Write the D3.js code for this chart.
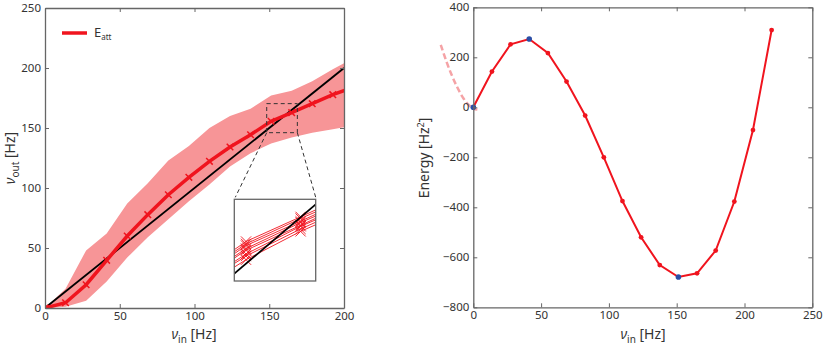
<!DOCTYPE html>
<html>
<head>
<meta charset="utf-8">
<script src="https://cdn.jsdelivr.net/npm/d3@7"></script>
<style>
  body { margin: 0; background: #fff; }
  text { font-family: "Noto Sans", sans-serif; fill: #333; }
  .axis path, .axis line { stroke: #666; }
  .axis text { font-size: 11.5px; fill: #333; }
</style>
</head>
<body>
<div id="container"></div>
<script>
// ---- data ----
// input rates (same for both panels)
let vin = [0, 13.75, 27.5, 41.25, 55, 68.75, 82.5, 96.25, 110, 123.75, 137.5, 151.25, 165, 178.75, 192.5, 206.25, 220];

// left panel: mean output rate and the shaded band
let voutMean = [0, 4.4, 19.4, 39.7, 60, 77.8, 94.4, 108.9, 122.2, 134.2, 144.4, 155.6, 162.8, 170.3, 177.8, 184, 189];
let bandUpper = [0, 16, 48, 62, 87, 104, 123, 135, 150, 160, 166, 177, 181, 189, 199, 208, 214];
let bandLower = [0, 1, 6, 22, 42, 59, 74, 89, 103, 118, 129, 137, 142, 146, 149, 152, 154];

// inset: single trials around the crossing
let trialX = [137.5, 151.25, 165, 178.75];
let trials = [
  [142.2, 152.4, 160.8, 167.9],
  [143.1, 153.5, 161.5, 168.8],
  [143.5, 154.1, 162.3, 169.2],
  [144.4, 155.2, 162.6, 170.1],
  [144.9, 155.7, 163.4, 170.4],
  [145.3, 156.6, 163.8, 171.3],
  [146.2, 157.1, 164.6, 171.7],
  [146.5, 157.8, 165.1, 172.6]
];
let zoomBox = { x: [148.3, 168.8], y: [146.1, 170.3] };

// right panel: energy
let energy = [0, 143, 252, 273, 217, 103, -33, -200, -375, -520, -631, -679, -664, -573, -377, -91, 309];
let minima = [0, 3, 11]; // indices drawn in blue
let parabolaX = [-24, -20, -16, -12, -8, -4, 0, 3];
let parabolaY = [250, 186, 130, 82, 42, 13, -5, -9];

let xTicksL = [0, 50, 100, 150, 200];
let yTicksL = [0, 50, 100, 150, 200, 250];
let xTicksR = [0, 50, 100, 150, 200, 250];
let yTicksR = [-800, -600, -400, -200, 0, 200, 400];

let red = "#f0141e";
let bandColor = "#f79597";
let blue = "#2b4ea6";

let w = 827;
let h = 350;
let viz = d3.select("#container")
  .append("svg")
    .attr("width", w)
    .attr("height", h)
;

// draws a matlab-like box with inward ticks on all 4 sides
function drawBox(g, xScale, yScale, xTicks, yTicks){
  let x0 = xScale.range()[0], x1 = xScale.range()[1];
  let y0 = yScale.range()[0], y1 = yScale.range()[1];
  g.append("g").attr("class", "axis")
    .attr("transform", "translate(0," + y0 + ")")
    .call(d3.axisBottom(xScale).tickValues(xTicks).tickSizeInner(-4).tickSizeOuter(0).tickPadding(4));
  g.append("g").attr("class", "axis")
    .attr("transform", "translate(0," + y1 + ")")
    .call(d3.axisTop(xScale).tickValues(xTicks).tickSizeInner(-4).tickSizeOuter(0).tickFormat(""));
  g.append("g").attr("class", "axis")
    .attr("transform", "translate(" + x0 + ",0)")
    .call(d3.axisLeft(yScale).tickValues(yTicks).tickSizeInner(-4).tickSizeOuter(0).tickPadding(4));
  g.append("g").attr("class", "axis")
    .attr("transform", "translate(" + x1 + ",0)")
    .call(d3.axisRight(yScale).tickValues(yTicks).tickSizeInner(-4).tickSizeOuter(0).tickFormat(""));
  g.selectAll(".axis .domain").attr("stroke", "#666").attr("stroke-width", 1.3);
}

// label with italic nu and subscript
function nuLabel(sel, sub){
  sel.append("tspan").attr("font-style", "italic").text("ν");
  sel.append("tspan").attr("font-size", "10px").attr("dy", 4).text(sub);
  sel.append("tspan").attr("dy", -4).text(" [Hz]");
}

// ================= left panel =================
let left = viz.append("g");
let xL = d3.scaleLinear().domain([0, 200]).range([45, 344]);
let yL = d3.scaleLinear().domain([0, 250]).range([308, 8]);

left.append("clipPath").attr("id", "clipL")
  .append("rect").attr("x", 45).attr("y", 8).attr("width", 299).attr("height", 300);

let plotL = left.append("g").attr("clip-path", "url(#clipL)");

let area = d3.area()
  .x(function(d, i){ return xL(vin[i]) })
  .y0(function(d, i){ return yL(bandLower[i]) })
  .y1(function(d, i){ return yL(bandUpper[i]) });
plotL.append("path").datum(bandUpper)
  .attr("d", area)
  .attr("fill", bandColor);

// identity line
plotL.append("line")
  .attr("x1", xL(0)).attr("y1", yL(0))
  .attr("x2", xL(200)).attr("y2", yL(200))
  .attr("stroke", "#000").attr("stroke-width", 1.8);

let meanLine = d3.line()
  .x(function(d, i){ return xL(vin[i]) })
  .y(function(d){ return yL(d) });
plotL.append("path").datum(voutMean)
  .attr("d", meanLine)
  .attr("fill", "none")
  .attr("stroke", red)
  .attr("stroke-width", 3.5);

let times = d3.symbol().type(d3.symbolTimes).size(30);
plotL.selectAll(".mk").data(voutMean).enter()
  .append("path")
    .attr("transform", function(d, i){ return "translate(" + xL(vin[i]) + "," + yL(d) + ")" })
    .attr("d", times)
    .attr("fill", "none")
    .attr("stroke", red)
    .attr("stroke-width", 1.5);

// dashed zoom box and connectors
let bx0 = xL(zoomBox.x[0]), bx1 = xL(zoomBox.x[1]);
let by0 = yL(zoomBox.y[1]), by1 = yL(zoomBox.y[0]);
let ix0 = 234.3, ix1 = 315.7, iy0 = 199.3, iy1 = 281;

left.append("rect")
  .attr("x", bx0).attr("y", by0)
  .attr("width", bx1 - bx0).attr("height", by1 - by0)
  .attr("fill", "none").attr("stroke", "#333").attr("stroke-width", 1)
  .attr("stroke-dasharray", "4,3");
left.append("line")
  .attr("x1", bx0).attr("y1", by1).attr("x2", ix0 + 1).attr("y2", iy0 - 2)
  .attr("stroke", "#333").attr("stroke-dasharray", "4,3");
left.append("line")
  .attr("x1", bx1).attr("y1", by1).attr("x2", ix1).attr("y2", iy0 - 2)
  .attr("stroke", "#333").attr("stroke-dasharray", "4,3");

// inset
let xI = d3.scaleLinear().domain(zoomBox.x).range([ix0, ix1]);
let yI = d3.scaleLinear().domain(zoomBox.y).range([iy1, iy0]);
left.append("clipPath").attr("id", "clipI")
  .append("rect").attr("x", ix0).attr("y", iy0).attr("width", ix1 - ix0).attr("height", iy1 - iy0);
left.append("rect")
  .attr("x", ix0).attr("y", iy0).attr("width", ix1 - ix0).attr("height", iy1 - iy0)
  .attr("fill", "#fff");
let inset = left.append("g").attr("clip-path", "url(#clipI)");

let trialLine = d3.line()
  .x(function(d, i){ return xI(trialX[i]) })
  .y(function(d){ return yI(d) });
inset.selectAll(".trial").data(trials).enter()
  .append("path")
    .attr("d", trialLine)
    .attr("fill", "none")
    .attr("stroke", red)
    .attr("stroke-width", 0.9);

let bigTimes = d3.symbol().type(d3.symbolTimes).size(70);
trials.forEach(function(t){
  inset.selectAll(null).data(t).enter()
    .append("path")
      .attr("transform", function(d, i){ return "translate(" + xI(trialX[i]) + "," + yI(d) + ")" })
      .attr("d", bigTimes)
      .attr("fill", "none")
      .attr("stroke", red)
      .attr("stroke-width", 0.9);
});

inset.append("line")
  .attr("x1", xI(140)).attr("y1", yI(140))
  .attr("x2", xI(175)).attr("y2", yI(175))
  .attr("stroke", "#000").attr("stroke-width", 1.8);

left.append("rect")
  .attr("x", ix0).attr("y", iy0).attr("width", ix1 - ix0).attr("height", iy1 - iy0)
  .attr("fill", "none").attr("stroke", "#666").attr("stroke-width", 1.3);

drawBox(left, xL, yL, xTicksL, yTicksL);

// legend
left.append("line")
  .attr("x1", 62).attr("x2", 87).attr("y1", 33).attr("y2", 33)
  .attr("stroke", red).attr("stroke-width", 3.5);
let leg = left.append("text").attr("x", 94).attr("y", 37).attr("font-size", "13px");
leg.append("tspan").text("E");
leg.append("tspan").attr("font-size", "8px").attr("dy", 3).text("att");

// axis labels
let xlabL = left.append("text")
  .attr("x", 194).attr("y", 339)
  .attr("text-anchor", "middle").attr("font-size", "14px");
nuLabel(xlabL, "in");
let ylabL = left.append("text")
  .attr("transform", "translate(15,158) rotate(-90)")
  .attr("text-anchor", "middle").attr("font-size", "14px");
nuLabel(ylabL, "out");

// ================= right panel =================
let right = viz.append("g");
let xR = d3.scaleLinear().domain([0, 250]).range([473.3, 812.3]);
let yR = d3.scaleLinear().domain([-800, 400]).range([307.3, 7.3]);

let paraLine = d3.line()
  .curve(d3.curveCatmullRom)
  .x(function(d, i){ return xR(parabolaX[i]) })
  .y(function(d){ return yR(d) });
right.append("path").datum(parabolaY)
  .attr("d", paraLine)
  .attr("fill", "none")
  .attr("stroke", "#f5a3a6")
  .attr("stroke-width", 2.5)
  .attr("stroke-dasharray", "6,3");

let energyLine = d3.line()
  .x(function(d, i){ return xR(vin[i]) })
  .y(function(d){ return yR(d) });
right.append("path").datum(energy)
  .attr("d", energyLine)
  .attr("fill", "none")
  .attr("stroke", red)
  .attr("stroke-width", 2);

right.selectAll(".dot").data(energy).enter()
  .append("circle")
    .attr("cx", function(d, i){ return xR(vin[i]) })
    .attr("cy", function(d){ return yR(d) })
    .attr("r", function(d, i){ return minima.indexOf(i) >= 0 ? 2.8 : 2.4 })
    .attr("fill", function(d, i){ return minima.indexOf(i) >= 0 ? blue : red });

drawBox(right, xR, yR, xTicksR, yTicksR);

let xlabR = right.append("text")
  .attr("x", 643).attr("y", 339)
  .attr("text-anchor", "middle").attr("font-size", "14px");
nuLabel(xlabR, "in");

let ylabR = right.append("text")
  .attr("transform", "translate(429,158) rotate(-90)")
  .attr("text-anchor", "middle").attr("font-size", "14px");
ylabR.append("tspan").text("Energy [Hz");
ylabR.append("tspan").attr("font-size", "9px").attr("dy", -5).text("2");
ylabR.append("tspan").attr("dy", 5).text("]");
</script>
</body>
</html>
